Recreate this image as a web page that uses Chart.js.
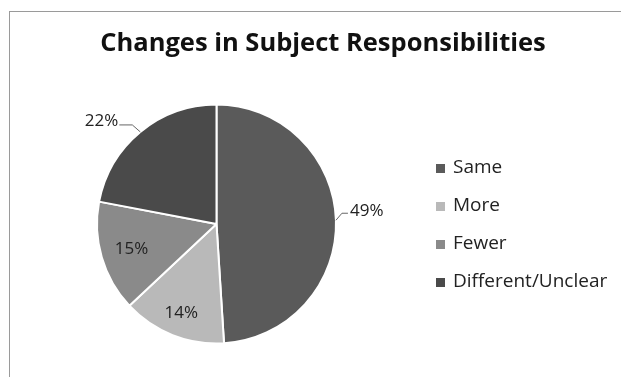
<!DOCTYPE html>
<html>
<head>
<meta charset="utf-8">
<script src="https://cdn.jsdelivr.net/npm/chart.js@4"></script>
<style>
html,body{margin:0;padding:0;background:#fff;}
#wrap{position:relative;width:621px;height:377px;}
#frame{position:absolute;left:9px;top:11px;width:640px;height:400px;border:1px solid #9a9a9a;box-sizing:border-box;}
canvas{position:absolute;left:0;top:0;}
</style>
</head>
<body>
<div id="wrap">
<div id="frame"></div>
<canvas id="c" width="621" height="377"></canvas>
</div>
<script>
const titleText = "Changes in Subject Responsibilities";
const categories = ["Same", "More", "Fewer", "Different/Unclear"];
const values = [49, 14, 15, 22];
const valueLabels = ["49%", "14%", "15%", "22%"];

const colors = ["#5a5a5a", "#b9b9b9", "#8a8a8a", "#4a4a4a"];
const FONT = "'Open Sans', Lato, sans-serif";

const overlay = {
  id: "overlay",
  afterDraw(chart) {
    const ctx = chart.ctx;
    const meta = chart.getDatasetMeta(0);
    ctx.save();
    // title
    ctx.fillStyle = "#111";
    ctx.font = "bold 25.5px " + FONT;
    ctx.textAlign = "center";
    ctx.textBaseline = "middle";
    ctx.fillText(titleText, 323, 44);
    // data labels
    ctx.font = "17px " + FONT;
    ctx.fillStyle = "#222";
    ctx.strokeStyle = "#666";
    ctx.lineWidth = 1;
    meta.data.forEach((arc, i) => {
      const p = arc.getProps(["x","y","startAngle","endAngle","outerRadius"], true);
      const mid = (p.startAngle + p.endAngle) / 2;
      const cx = Math.cos(mid), cy = Math.sin(mid);
      if (i === 0) {
        const ex = p.x + cx * p.outerRadius, ey = p.y + cy * p.outerRadius;
        ctx.beginPath(); ctx.moveTo(ex, ey); ctx.lineTo(ex + 6, ey - 7); ctx.lineTo(ex + 12, ey - 7); ctx.stroke();
        ctx.textAlign = "left"; ctx.textBaseline = "middle";
        ctx.fillText(valueLabels[i], ex + 14, ey - 9);
      } else if (i === 3) {
        const ex = p.x + cx * p.outerRadius, ey = p.y + cy * p.outerRadius;
        ctx.beginPath(); ctx.moveTo(ex, ey); ctx.lineTo(ex - 8, ey - 7); ctx.lineTo(ex - 21, ey - 7); ctx.stroke();
        ctx.textAlign = "right"; ctx.textBaseline = "middle";
        ctx.fillText(valueLabels[i], ex - 22, ey - 11);
      } else {
        const f = i === 1 ? 0.8 : 0.74;
        ctx.textAlign = "center"; ctx.textBaseline = "middle";
        ctx.fillText(valueLabels[i], p.x + cx * p.outerRadius * f, p.y + cy * p.outerRadius * f);
      }
    });
    // legend
    ctx.font = "19px " + FONT;
    ctx.textAlign = "left"; ctx.textBaseline = "middle";
    categories.forEach((c, i) => {
      const y = 168 + i * 38;
      ctx.fillStyle = colors[i];
      ctx.fillRect(436, y - 4, 9, 9);
      ctx.fillStyle = "#222";
      ctx.fillText(c, 453, y);
    });
    ctx.restore();
  }
};

new Chart(document.getElementById("c"), {
  type: "pie",
  data: {
    labels: categories,
    datasets: [{
      data: values,
      backgroundColor: colors,
      borderColor: "#ffffff",
      borderWidth: 2
    }]
  },
  options: {
    responsive: false,
    animation: false,
    layout: { padding: { top: 103, bottom: 32, left: 96, right: 284 } },
    plugins: { legend: { display: false }, tooltip: { enabled: false }, title: { display: false } }
  },
  plugins: [overlay]
});
</script>
</body>
</html>
